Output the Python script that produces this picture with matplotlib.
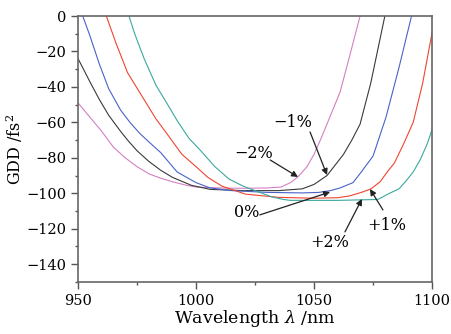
import matplotlib
matplotlib.use("Agg")
import matplotlib.pyplot as plt
from matplotlib.ticker import MultipleLocator

plt.rcParams['font.family'] = 'DejaVu Serif'
plt.rcParams['mathtext.fontset'] = 'dejavuserif'

# GDD curves, one per layer-thickness error
pink_x = [950, 955, 960, 965, 970, 975, 980, 985, 990, 996, 1000, 1010, 1020, 1030, 1036,
          1040, 1043, 1047, 1050, 1053, 1057, 1061, 1065, 1069.5]
pink_y = [-49, -57, -65, -74, -80, -85, -89, -91.5, -93.5, -95.5, -96.5, -97, -97.2, -97, -96.5,
          -94, -91, -85, -78, -69, -56, -43, -23, 0]

black_x = [950, 955, 959, 963, 968, 971, 975, 980, 985, 990, 998, 1006, 1020, 1035, 1045,
           1050, 1055.5, 1059, 1062.5, 1066, 1069.5, 1074, 1080]
black_y = [-24, -37, -47, -56, -65, -70, -76, -82, -87, -91, -95.5, -97.8, -98.5, -98.5, -97.5,
           -95, -90, -84, -78, -70, -61, -38, 0]

blue_x = [952, 955, 959, 963, 968, 972, 976, 980, 985, 992, 1000, 1006, 1015, 1030, 1045,
          1052, 1057, 1061, 1066.5, 1070, 1075, 1080.5, 1086, 1091.3]
blue_y = [0, -11, -27, -41, -53, -60, -66, -71, -77, -88, -94, -97, -98.5, -99.5, -99.8,
          -99.5, -98.5, -97, -94, -88, -79, -57, -29, 0]

red_x = [962, 966, 971, 977, 983, 988, 994, 1000, 1005, 1011, 1021, 1035, 1050, 1060, 1065,
         1070, 1074, 1078, 1081, 1084, 1088, 1092, 1096, 1100]
red_y = [0, -15, -32, -45, -58, -67, -78, -85, -91, -96, -100.5, -102.3, -102.8, -102.5, -101.5,
         -99.5, -97.6, -93.5, -88, -83, -72, -60, -38, -9.5]

teal_x = [971.6, 974, 978, 983, 988, 992, 997, 1002, 1008, 1014, 1020, 1026, 1032, 1037,
          1040, 1060, 1077, 1082, 1086, 1089, 1092, 1095, 1098, 1100]
teal_y = [0, -10, -24, -39, -50, -59, -69, -76, -85, -92, -96, -99, -102, -103.5,
          -104, -104, -103.5, -100, -97.5, -93, -88, -81, -72, -64]

series = [
    (pink_x, pink_y, '#d480c2'),
    (black_x, black_y, '#3a3a3a'),
    (blue_x, blue_y, '#4a62c8'),
    (red_x, red_y, '#f0452f'),
    (teal_x, teal_y, '#3aa89f'),
]

# label text, text centre, arrow start, arrow tip
labels = [
    ('\u22121%', (1041.1, -60.3), (1048.3, -65.4), (1055.5, -89.7)),
    ('\u22122%', (1024.2, -77.3), (1031.4, -81.2), (1043.2, -90.8)),
    ('0%', (1021.6, -111.0), (1027.0, -112.2), (1056.8, -99.3)),
    ('+2%', (1056.8, -128.0), (1063.1, -121.8), (1070.3, -103.2)),
    ('+1%', (1080.9, -117.9), (1079.2, -109.4), (1073.7, -97.6)),
]

fig = plt.figure(figsize=(4.51, 3.34), dpi=100)
ax = fig.add_axes([0.173, 0.156, 0.785, 0.796])

for x, y, c in series:
    ax.plot(x, y, color=c, lw=0.8)

for txt, pos, start, tip in labels:
    ax.text(pos[0], pos[1], txt, fontsize=11.5, ha='center', va='center')
    ax.annotate('', xy=tip, xytext=start,
                arrowprops=dict(arrowstyle='-|>', color='#222222', lw=0.9,
                                mutation_scale=9, shrinkA=0, shrinkB=0))

ax.set_xlim(950, 1100)
ax.set_ylim(-150, 0)
ax.xaxis.set_major_locator(MultipleLocator(50))
ax.xaxis.set_minor_locator(MultipleLocator(25))
ax.yaxis.set_major_locator(MultipleLocator(20))
ax.yaxis.set_minor_locator(MultipleLocator(10))
ax.tick_params(which='both', direction='out', top=False, right=False,
               color='#555555', width=1.0, labelsize=10.5)
ax.tick_params(which='major', length=5)
ax.tick_params(which='minor', length=2.5)
for s in ax.spines.values():
    s.set_color('#666666')
    s.set_linewidth(1.2)

ax.set_xlabel('Wavelength $\\lambda$ /nm', fontsize=12.5, labelpad=0)
ax.set_ylabel('GDD /fs$^2$', fontsize=11.5)
ax.yaxis.set_label_coords(-0.15, 0.5)

fig.savefig('out.png', dpi=100)
